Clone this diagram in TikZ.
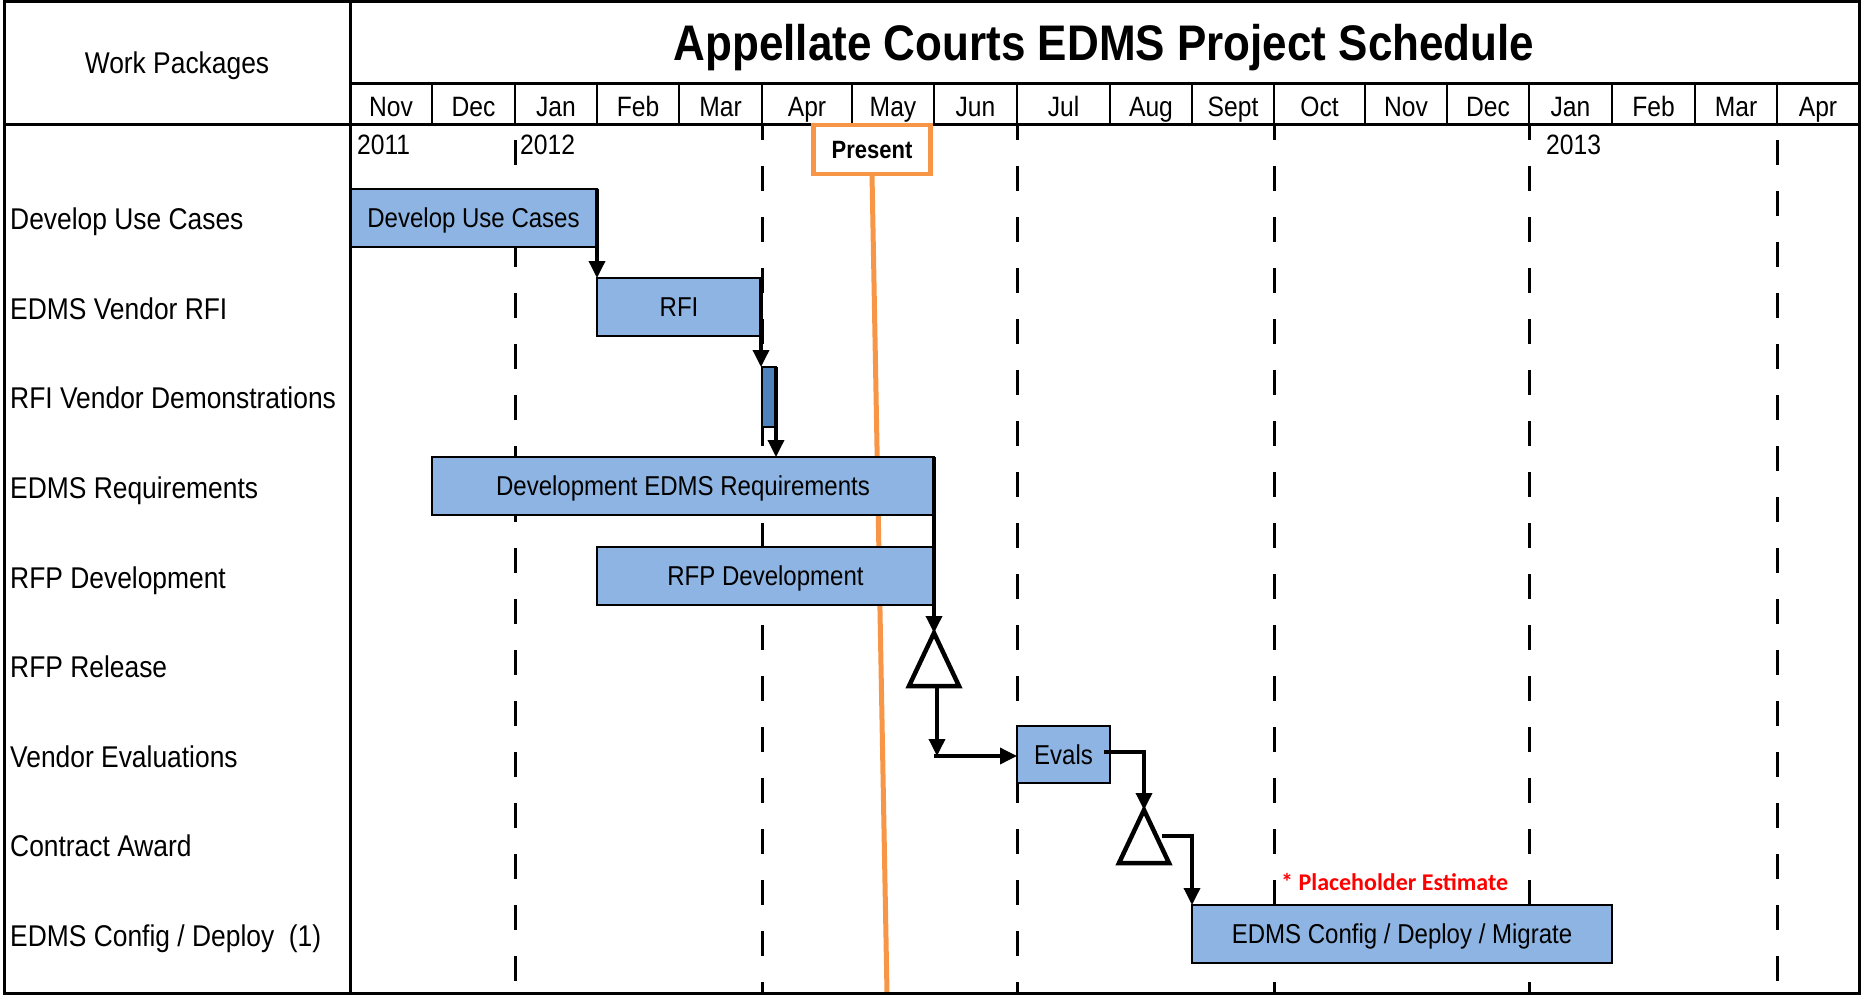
\documentclass[tikz,border=0pt]{standalone}
\usepackage{fontspec}
\setmainfont{Liberation Sans}[FakeStretch=0.88]
\newfontfamily\calfont{Carlito}
\usetikzlibrary{arrows.meta,calc}
\definecolor{barblue}{HTML}{8DB4E2}
\definecolor{darkblue}{HTML}{4F81BD}
\definecolor{presorange}{HTML}{F79646}
\begin{document}
\begin{tikzpicture}[x=1pt,y=-1pt,
  frameline/.style={line width=3pt},
  divline/.style={line width=2pt},
  dashln/.style={line width=3pt, dash pattern=on 25pt off 26pt},
  bar/.style={draw=black, line width=2.5pt, fill=barblue, inner sep=0pt, outer sep=0pt,
    font=\fontsize{27.3}{30}\selectfont, text height=19.5pt, text depth=0pt},
  rowlabel/.style={anchor=west, inner sep=0pt, font=\fontsize{30}{33}\selectfont, text height=21.5pt, text depth=0pt},
  month/.style={anchor=base, inner sep=0pt, font=\fontsize{28}{31}\selectfont},
  year/.style={anchor=west, inner sep=0pt, font=\fontsize{28}{31}\selectfont, text height=20pt, text depth=0pt},
  conn/.style={line width=3.5pt, -{Triangle[length=17pt,width=16pt]}},
  tri/.style={line width=4.5pt, fill=white, line join=miter},
]
\useasboundingbox (0,0) rectangle (1865,995);

% header grid
\draw[frameline] (350,84) -- (1859,84);
\draw[frameline] (4,125) -- (1859,125);
\foreach \x in {432,515,597,679,762,852,934,1017,1110,1192,1274,1365,1447,1529,1612,1695,1777}
  \draw[divline] (\x,84) -- (\x,125);

% months
\foreach \a/\b/\m in {350/432/Nov,432/515/Dec,515/597/Jan,597/679/Feb,679/762/Mar,762/852/Apr,852/934/May,934/1017/Jun,1017/1110/Jul,1110/1192/Aug,1192/1274/Sept,1274/1365/Oct,1365/1447/Nov,1447/1529/Dec,1529/1612/Jan,1612/1695/Feb,1695/1777/Mar,1777/1859/Apr}
  \node[month] (mon-\a) at ({(\a+\b)/2},117) {\m};

% dashed quarter lines
\foreach \x in {762,1017,1274,1529}
  \draw[dashln, dash phase=10pt] (\x,125) -- (\x,993);
\foreach \x in {515,1777}
  \draw[dashln] (\x,140) -- (\x,993);

% title and column head
\node[inner sep=0pt, font=\bfseries\fontsize{50}{55}\selectfont, text height=36pt, text depth=0pt] (title) at (1104,43) {Appellate Courts EDMS Project Schedule};
\node[inner sep=0pt, font=\fontsize{30}{33}\selectfont, text height=21.5pt, text depth=0pt] (wp) at (177,63) {Work Packages};

% years
\node[year] (y2011) at (357,144.5) {2011};
\node[year] (y2012) at (520,144.5) {2012};
\node[year] (y2013) at (1546,144.5) {2013};

% present marker
\node[draw=presorange, line width=4.5pt, fill=white, minimum width=117pt, minimum height=49pt, inner sep=0pt, outer sep=0pt,
  font=\bfseries\fontsize{25}{28}\selectfont, text height=18pt, text depth=0pt] (present) at (872,149.5) {Present};
\coordinate (pend) at (887,993);
\draw[presorange, line width=5pt] (present.south) -- (pend);

% row labels
\node[rowlabel] (l1) at (10,219) {Develop Use Cases};
\node[rowlabel] (l2) at (10,309) {EDMS Vendor RFI};
\node[rowlabel] (l3) at (10,398) {RFI Vendor Demonstrations};
\node[rowlabel] (l4) at (10,488) {EDMS Requirements};
\node[rowlabel] (l5) at (10,578) {RFP Development};
\node[rowlabel] (l6) at (10,667) {RFP Release};
\node[rowlabel] (l7) at (10,756.5) {Vendor Evaluations};
\node[rowlabel] (l8) at (10,846) {Contract Award};
\node[rowlabel] (l9) at (10,936) {EDMS Config / Deploy\ \ (1)};

% bars
\node[bar, minimum width=247pt, minimum height=58pt] (duc) at (473.5,218) {Develop Use Cases};
\node[bar, minimum width=164pt, minimum height=58pt] (rfi) at (679,307) {RFI};
\node[bar, fill=darkblue, minimum width=14pt, minimum height=60pt] (demo) at (769,397) {};
\node[bar, minimum width=502pt, minimum height=58pt] (req) at (683,486) {Development EDMS Requirements};
\node[bar, minimum width=337pt, minimum height=58pt] (rfp) at (765.5,576) {RFP Development};
\node[bar, minimum width=93pt, minimum height=57pt] (evals) at (1063.5,754.5) {Evals};
\node[bar, minimum width=420pt, minimum height=58pt] (cfg) at (1402,934) {EDMS Config / Deploy / Migrate};

% milestones
\coordinate (t1a) at (934,633);
\coordinate (t1l) at (909,686);
\coordinate (t1r) at (959,686);
\coordinate (t1b) at (937,686);
\draw[tri] (t1a) -- (t1l) -- (t1r) -- cycle;
\coordinate (t2a) at (1144,810);
\coordinate (t2l) at (1119,863);
\coordinate (t2r) at (1169,863);
\coordinate (t2s) at (1162,836);
\draw[tri] (t2a) -- (t2l) -- (t2r) -- cycle;

% connectors
\draw[conn] (duc.north east) -- (duc.north east |- rfi.north);
\draw[conn] (rfi.north east) -- (rfi.north east |- demo.north);
\draw[conn] (demo.north east) -- (demo.north east |- req.north);
\draw[conn] (req.north east) -- (t1a);
\coordinate (t1c) at (937,756);
\draw[conn] (t1b) -- (t1c);
\draw[conn] ([xshift=-3pt]t1c) -- (t1c -| evals.west);
\draw[conn] ([shift={(-6,-2.5)}]evals.east) -| (t2a);
\draw[conn] (t2s) -| (cfg.north west);

% note
\node[anchor=west, inner sep=0pt, text=red, font=\calfont\bfseries\fontsize{24}{26}\selectfont, text height=15.5pt, text depth=0pt] (ph) at (1281,883) {* Placeholder Estimate};

% frame
\draw[frameline] (4,2) rectangle (1859,993);
\draw[frameline] (350,2) -- (350,993);
\end{tikzpicture}
\end{document}
